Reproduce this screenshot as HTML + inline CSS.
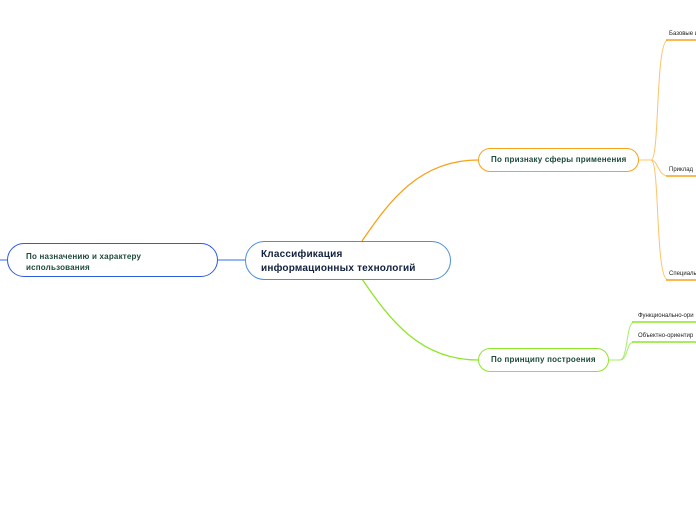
<!DOCTYPE html>
<html><head><meta charset="utf-8"><style>
body{margin:0;width:696px;height:520px;background:#fff;overflow:hidden;position:relative;font-family:"Liberation Sans","DejaVu Sans",sans-serif}
.n{position:absolute;box-sizing:border-box;background:#fff;border-radius:20px;font-weight:bold}
.t{position:absolute;font-size:6px;color:#222;white-space:nowrap}
</style></head><body>
<svg width="696" height="520" style="position:absolute;left:0;top:0">
<path d="M0 260 H245" stroke="#5b8def" stroke-width="1.2" fill="none"/>
<path d="M362 241 C390 200,420 160,478 160" stroke="#f7a21b" stroke-width="1.3" fill="none"/>
<path d="M362 279 C390 320,420 360,478 360" stroke="#8ee62a" stroke-width="1.3" fill="none"/>
<g stroke="#fcc46a" stroke-width="1" fill="none">
<path d="M638 160 H651 C660 160,655 40,668 40"/>
<path d="M651 160 C658 160,658 176,668 176"/>
<path d="M651 160 C660 160,655 280,668 280"/>
</g>
<g stroke="#f7a21b" stroke-width="1.5"><path d="M666 40H696M666 176H696M666 280H696"/></g>
<g stroke="#a8ee6a" stroke-width="1" fill="none">
<path d="M608 360 H620 C628 360,626 322,634 322"/>
<path d="M620 360 C628 360,626 342,634 342"/>
</g>
<g stroke="#8ee62a" stroke-width="1.5"><path d="M632 322H696M632 342H696"/></g>
</svg>
<div class="n" style="left:7px;top:243px;width:211px;height:34px;border:1.5px solid #2e5be0;font-size:8px;color:#1d4a3a;padding:7px 0 0 18px;line-height:11px;letter-spacing:0.2px">По назначению и характеру<br>использования</div>
<div class="n" style="left:245px;top:241px;width:206px;height:39px;border:1.5px solid #4d8fd8;font-size:10px;color:#12213f;padding:6px 0 0 15px;line-height:13.5px;letter-spacing:0.2px">Классификация<br>информационных технологий</div>
<div class="n" style="left:478px;top:148px;width:161px;height:24px;border:1.5px solid #f7a21b;font-size:8px;color:#1d4a3a;padding:6px 0 0 12px;border-radius:12px;letter-spacing:0.2px">По признаку сферы применения</div>
<div class="n" style="left:478px;top:348px;width:131px;height:24px;border:1.5px solid #8ee62a;font-size:8px;color:#1d4a3a;padding:6px 0 0 12px;border-radius:12px;letter-spacing:0.2px">По принципу построения</div>
<div class="t" style="left:669px;top:31px">Базовые и</div>
<div class="t" style="left:669px;top:167px">Приклад</div>
<div class="t" style="left:669px;top:271px">Специаль</div>
<div class="t" style="left:638px;top:313px">Функционально-ори</div>
<div class="t" style="left:638px;top:333px">Объектно-ориентир</div>
</body></html>
